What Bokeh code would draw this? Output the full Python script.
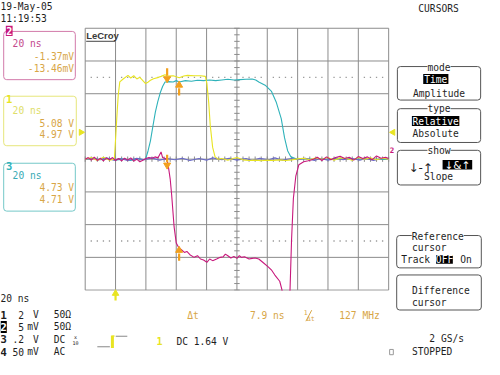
import numpy as np
from bokeh.plotting import figure
from bokeh.models import Range1d, Label, BoxAnnotation
from bokeh.embed import file_html
from bokeh.resources import INLINE

# ---------------- data ----------------
NS_PER_DIV = 20
VOLTS_PER_DIV = {"1": 2.0, "2": 5.0, "3": 2.0, "4": 50.0}   # ch2/ch4 in mV, ch3 = .2 V x10 probe

# (time ns, volts)
ch1_trace = [(-100, 0.0), (-96, 0.1), (-92, -0.08), (-88, 0.12), (-84, -0.06), (-80.8, 0.0),
             (-80, 1.2), (-79, 2.8), (-78.2, 3.94), (-77.2, 4.72), (-75, 4.9), (-71.8, 5.12),
             (-70, 4.96), (-68, 5.1), (-66, 4.9), (-64, 5.0), (-62, 4.8), (-60.2, 4.62),
             (-58.4, 4.72), (-57, 4.82), (-55, 4.92), (-51.6, 5.0), (-50, 5.06), (-47.4, 5.16),
             (-46, 5.08), (-42, 5.1), (-38, 4.98), (-35, 5.08), (-32.6, 5.12), (-28, 5.1),
             (-24, 5.1), (-20.8, 5.06), (-19.8, 4.62), (-18.6, 3.46), (-17.6, 2.08), (-16, 0.72),
             (-14.4, 0.14), (-12.2, 0.0), (-10, 0.04), (-6, -0.06), (-2, 0.06), (0, 0.1),
             (4, -0.04), (8, -0.08), (12, -0.06), (16, -0.1), (20, -0.06), (24, -0.08),
             (28, -0.04), (32, -0.08), (36, -0.04), (40, 0.02), (44, 0.06), (48, -0.04),
             (52, 0.08), (56, 0.0), (60, 0.1), (64, -0.06), (68, 0.08), (72, 0.04), (76, -0.06),
             (80, 0.1), (84, 0.0), (88, 0.08), (92, -0.04), (96, 0.06), (100, 0.0)]
# (time ns, millivolts)
ch2_trace = [(-100, 0.0), (-98, 0.25), (-96, -0.15), (-94, 0.3), (-92, -0.2), (-90, 0.15),
             (-88, -0.25), (-86, 0.2), (-84, -0.1), (-82, 0.25), (-80, -0.2), (-78, 0.1),
             (-76, -0.25), (-74, 0.15), (-72, -0.15), (-70, 0.2), (-68, -0.3), (-66, 0.0),
             (-64, -0.4), (-62, -0.15), (-60, 0.1), (-58, 0.25), (-56, 0.15), (-54, 0.35),
             (-52, 0.2), (-50, 1.1), (-49, 0.25), (-47.2, 0.1), (-46, -0.25), (-45.2, -1.1),
             (-44, -3.0), (-43, -5.5), (-41.4, -10.35), (-40, -12.8), (-38.4, -13.5),
             (-36.8, -13.8), (-34.6, -14.25), (-33, -14.1), (-31, -14.6), (-28.2, -15.0),
             (-26, -14.75), (-24, -15.25), (-22, -15.4), (-19.8, -15.75), (-18, -15.25),
             (-16, -15.5), (-13.4, -15.25), (-11, -15.0), (-9, -14.9), (-7.6, -14.5),
             (-6, -14.75), (-4, -15.1), (-2, -14.85), (0, -15.15), (1.6, -14.75), (3, -15.0),
             (5, -14.9), (8, -15.25), (10, -15.15), (12, -15.1), (14.4, -15.25), (17, -15.75),
             (20.6, -16.45), (23, -17.0), (25, -17.7), (28.2, -18.65), (29.6, -19.9),
             (31, -22.0), (33, -23.0), (34.6, -21.0), (35, -19.9), (36, -12.3), (37.2, -6.0),
             (38.8, -2.6), (40.8, -0.85), (44, -0.4), (47, -0.25), (50.4, 0.0), (53, 0.3),
             (56, -0.2), (59, 0.35), (62, -0.1), (65, 0.25), (68, 0.45), (71, 0.1), (74, 0.3),
             (77, -0.15), (80, 0.4), (83, 0.1), (86, 0.35), (89, -0.1), (92, 0.5), (95, 0.15),
             (98, 0.3), (100, 0.1)]
# (time ns, volts)
ch3_trace = [(-100, 0.0), (-95, 0.06), (-90, -0.04), (-85, 0.04), (-80, -0.06), (-75, 0.02),
             (-70, -0.08), (-65, 0.04), (-62, -0.04), (-60.2, 0.0), (-58.6, 0.5), (-57, 1.12),
             (-55.4, 2.0), (-53.8, 2.86), (-52.2, 3.5), (-50.6, 4.04), (-49, 4.44), (-47.4, 4.72),
             (-45, 4.74), (-42, 4.72), (-40, 4.8), (-38, 4.72), (-34, 4.8), (-30, 4.76),
             (-26, 4.82), (-22, 4.8), (-18, 4.84), (-14, 4.8), (-10, 4.84), (-6, 4.88),
             (-2, 4.84), (2, 4.86), (6, 4.88), (10, 4.9), (12.4, 4.84), (14.4, 4.72),
             (18.6, 4.52), (22.8, 4.14), (26, 3.46), (29.2, 2.48), (31.4, 1.3), (33.4, 0.52),
             (35.6, 0.14), (39.8, 0.0), (44, 0.04), (48.4, 0.0), (55, 0.04), (62, -0.02),
             (70, 0.04), (78, 0.0), (86, 0.04), (94, -0.02), (100, 0.0)]
# (time ns, millivolts)
ch4_trace = [(-100, 0.0), (-95, 1.5), (-91, -1.0), (-86, 2.0), (-81, -1.5), (-77, 1.0),
             (-72, -2.0), (-66, 1.5), (-61, -1.0), (-56, 2.0), (-51, -1.5), (-46, 1.0),
             (-41, -1.0), (-36, 1.5), (-31, -2.0), (-25, 1.0), (-20, -1.5), (-16, 2.0),
             (-10, -1.0), (-5, 1.5), (0, -1.5), (6, 1.0), (10, -2.0), (15, 1.5), (21, -1.0),
             (25, 2.0), (30, -1.5), (36, 1.0), (40, -1.0), (45, 1.5), (51, -2.0), (55, 1.0),
             (60, -1.5), (66, 2.0), (70, -1.0), (75, 1.5), (81, -1.5), (85, 1.0), (90, -2.0),
             (96, 1.5), (100, 0.0)]

cursor_ref_ns = -46.0
cursor_delta_ns = 7.9
ch1_readout = [5.08, 4.97]
ch2_readout = [-1.37, -13.46]
ch3_readout = [4.73, 4.71]
trigger_time_ns = -80.0
trigger_level_v = 1.64
channel_rows = [("1", "2", "V", "50Ω"), ("2", "5", "mV", "50Ω"),
                ("3", ".2", "V", "DC"), ("4", "50", "mV", "AC")]

# ---------------- layout (reference pixel frame) ----------------
W, H = 484, 359
REF_W, REF_H = 500, 375
GX0, GX1, GY0, GY1 = 87.5, 401.0, 29.0, 302.5
PXX = (GX1 - GX0) / 10
PXY = (GY1 - GY0) / 8
CX, CY = (GX0 + GX1) / 2, (GY0 + GY1) / 2


def tx(px):
    return (px - CX) / PXX * NS_PER_DIV


def ty(py):
    return (CY - py) / PXY


YELLOW = "#e8e422"
MAGENTA = "#c8187c"
CYAN = "#2fb2ba"
BLUE = "#6a6ac8"
ORANGE = "#f2a01e"
TAN = "#d8a646"
GRID = "#8c8c8c"
INK = "#1e1e1e"
BOXC = "#555555"
FONT = "DejaVu Sans Mono"
FS = "9.6px"

p = figure(width=W, height=H, x_range=Range1d(tx(0), tx(REF_W)),
           y_range=Range1d(ty(REF_H), ty(0)), output_backend="svg",
           toolbar_location=None, x_axis_type=None, y_axis_type=None,
           min_border=0, outline_line_color=None,
           background_fill_color="white", border_fill_color="white")
p.extra_y_ranges = {k: Range1d(ty(REF_H) * v, ty(0) * v) for k, v in VOLTS_PER_DIV.items()}

# graticule
vt = np.arange(-5, 6) * NS_PER_DIV
p.segment(x0=vt, y0=-4, x1=vt, y1=4, line_color=GRID, line_width=1)
hd = np.arange(-4, 5)
p.segment(x0=-5 * NS_PER_DIV, y0=hd, x1=5 * NS_PER_DIV, y1=hd, line_color=GRID, line_width=1)
minor_t = np.arange(-25, 26) * NS_PER_DIV / 5
dot_t = minor_t[np.round(minor_t) % NS_PER_DIV != 0]
for lvl in (2.5, -2.5):
    p.scatter(x=dot_t, y=lvl, marker="square", size=1.3, color="#9a9a9a", line_color=None)
minor_d = np.arange(-20, 21) / 5
hx = 2.8 / PXX * NS_PER_DIV
p.segment(x0=-hx, y0=minor_d, x1=hx, y1=minor_d, line_color=GRID, line_width=1)
hy = 2.8 / PXY
p.segment(x0=minor_t, y0=-hy, x1=minor_t, y1=hy, line_color=GRID, line_width=1)

# traces
for name, data, col in (("3", ch3_trace, CYAN), ("4", ch4_trace, BLUE),
                        ("1", ch1_trace, YELLOW), ("2", ch2_trace, MAGENTA)):
    t, v = zip(*data)
    p.line(list(t), list(v), y_range_name=name, line_color=col, line_width=1.1)

# mask beneath the graticule
p.quad(left=tx(GX0 - 1), right=tx(GX1 + 1), bottom=ty(REF_H), top=ty(GY1 + 0.6),
       fill_color="white", line_color=None)

# cursor arrows (tips at readout values)
alen, ahead = 14 / PXY, 3.2 / PXY
cur_t = [cursor_ref_ns, cursor_ref_ns + cursor_delta_ns]
for ch, rd in (("3", ch3_readout), ("2", ch2_readout)):
    tip0 = rd[0] / VOLTS_PER_DIV[ch]
    tip1 = rd[1] / VOLTS_PER_DIV[ch]
    p.segment(x0=cur_t[0], y0=tip0 + alen, x1=cur_t[0], y1=tip0 + 2 * ahead,
              line_color=ORANGE, line_width=2.2)
    p.scatter(x=cur_t[0], y=tip0 + ahead, marker="inverted_triangle", size=7,
              color=ORANGE, line_color=ORANGE)
    p.segment(x0=cur_t[1], y0=tip1 - alen, x1=cur_t[1], y1=tip1 - 2 * ahead,
              line_color=ORANGE, line_width=2.2)
    p.scatter(x=cur_t[1], y=tip1 - ahead, marker="triangle", size=7,
              color=ORANGE, line_color=ORANGE)

# trigger markers
p.segment(x0=trigger_time_ns, y0=ty(313.5), x1=trigger_time_ns, y1=ty(307),
          line_color=YELLOW, line_width=2.2)
p.scatter(x=trigger_time_ns, y=ty(306), marker="triangle", size=6.5, color=YELLOW)
lvl = trigger_level_v / VOLTS_PER_DIV["1"]
p.scatter(x=tx(83.2), y=lvl, marker="triangle", angle=-np.pi / 2, size=6, color=YELLOW)
p.scatter(x=tx(405.5), y=lvl, marker="triangle", angle=np.pi / 2, size=6, color=YELLOW)

# LeCroy underline & coupling icon
p.segment(x0=tx(88.5), y0=ty(42.6), x1=tx(118.5), y1=ty(42.6), line_color="#444444", line_width=1)
p.segment(x0=[tx(100), tx(119)], y0=[ty(361.7), ty(350.7)], x1=[tx(113), tx(131)],
          y1=[ty(361.7), ty(350.7)], line_color="#888888", line_width=1)
p.segment(x0=tx(115.6), y0=ty(350), x1=tx(115.6), y1=ty(363), line_color=YELLOW, line_width=3)
p.segment(x0=tx(115.6), y0=ty(350.5), x1=tx(118), y1=ty(350.5), line_color=YELLOW, line_width=1)
# 1/Δt slash
p.segment(x0=tx(315.5), y0=ty(335), x1=tx(321.5), y1=ty(323.5), line_color=TAN, line_width=1)


def box(x0, y0, x1, y1, line=None, fill=None, radius=0):
    p.add_layout(BoxAnnotation(left=tx(x0), right=tx(x1), top=ty(y0), bottom=ty(y1),
                               fill_color=fill if fill else "white",
                               fill_alpha=1 if fill else 0,
                               line_color=line, line_width=1, line_alpha=1 if line else 0,
                               border_radius=radius))


def lab(px, py, text, color=INK, size=FS, align="left", style="normal", bg=None, font=FONT):
    p.add_layout(Label(x=tx(px), y=ty(py), text=text, text_color=color, text_font_size=size,
                       text_align=align, text_baseline="middle", text_font=font,
                       text_font_style=style, background_fill_color=bg))


# date / time
lab(0, 6.5, "19-May-05")
lab(0, 18.5, "11:19:53")
lab(88.5, 36.8, "LeCroy", color="#3a3a3a", size="9.5px", style="bold", font="Liberation Sans")

# channel boxes
box(3.3, 32.3, 77.3, 82.7, line="#d27aaa", radius=3)
box(5.5, 26.5, 12.5, 37, fill=MAGENTA)
lab(9, 32, "2", color="white", size="10px", align="center", style="bold")
lab(12.5, 45, "20 ns", color="#c4488c")
lab(76, 58, "-1.37mV", color=TAN, align="right")
lab(76, 71, "-13.46mV", color=TAN, align="right")

box(3.3, 100, 78.3, 151.7, line="#e6e67a", radius=3)
lab(9, 102.5, "1", color=YELLOW, size="10.5px", align="center", style="bold")
lab(12.5, 115, "20 ns", color="#dede6a")
lab(76, 128, "5.08 V", color=TAN, align="right")
lab(76, 139.5, "4.97 V", color=TAN, align="right")

box(3.3, 170, 77.3, 220, line="#74c8c8", radius=3)
lab(9, 172.5, "3", color=CYAN, size="10.5px", align="center", style="bold")
lab(12.5, 183.3, "20 ns", color="#38aab4")
lab(76, 195.7, "4.73 V", color=TAN, align="right")
lab(76, 207.7, "4.71 V", color=TAN, align="right")

# channel ground marker
lab(404.5, 156.5, "2", color=MAGENTA, size="7.5px", align="center", style="bold")

# bottom-left settings
lab(0, 311.7, "20 ns")
row_y = [328.3, 341.0, 354.0, 366.7]
for (num, scale, unit, cpl), y in zip(channel_rows, row_y):
    if num == "2":
        box(0, y - 6.3, 6.5, y + 6.3, fill="black")
        lab(3.2, y, num, color="white", size="11px", align="center", style="bold")
    else:
        lab(3.2, y, num, color=INK, size="11px", align="center", style="bold")
    lab(24.3, y, scale, align="right")
    lab(39.5, y, unit, align="right")
    lab(55, y, cpl)
lab(77.5, 352, "x", size="5px", align="center")
lab(77.5, 357.5, "10", size="5px", align="center")

# trigger readout
lab(164.2, 356, "1", color=YELLOW, size="10px", align="center", style="bold")
lab(181.7, 355.7, "DC 1.64 V")

# cursor readout
lab(193, 329.3, "Δt", color=TAN)
lab(293.5, 329.3, "7.9 ns", color=TAN, align="right")
lab(313.2, 326, "1", color=TAN, size="6.5px")
lab(316.5, 332.5, "Δt", color=TAN, size="6.5px")
lab(350, 329.3, "127 MHz", color=TAN)

# right menu
lab(452.5, 8.5, "CURSORS", align="center")
box(410, 69, 496, 104, line=BOXC, radius=3)
lab(453, 69.5, "mode", align="center", bg="white")
box(436.7, 76.7, 462.7, 87.3, fill="black")
lab(449.7, 82, "Time", color="white", align="center")
lab(453, 96.7, "Amplitude", align="center")

box(410, 113, 496, 148.3, line=BOXC, radius=3)
lab(453, 113, "type", align="center", bg="white")
box(425, 120.7, 474, 131, fill="black")
lab(449.5, 126, "Relative", color="white", align="center")
lab(449.5, 139.3, "Absolute", align="center")

box(410, 156.5, 496, 192.7, line=BOXC, radius=3)
lab(453, 156.5, "show", align="center", bg="white")
lab(434, 174.5, "↓-↑", align="center", size="12px", font="DejaVu Sans")
box(456.7, 166.7, 487.3, 176.5, fill="black")
lab(472, 171.6, "↓&↑", color="white", align="center", size="10.5px", font="DejaVu Sans")
lab(452.5, 183.8, "Slope", align="center")

box(409.3, 245.5, 496.7, 279.3, line=BOXC, radius=3)
lab(451.7, 246, "Reference", align="center", bg="white")
lab(425, 257.7, "cursor")
lab(414, 270.5, "Track")
box(450, 266, 467.3, 275, fill="black")
lab(458.7, 270.5, "OFF", color="white", align="center")
lab(475, 270.5, "On")

box(409.3, 286.7, 496.7, 323.3, line=BOXC, radius=3)
lab(425, 302.7, "Difference")
lab(425, 315, "cursor")

lab(443, 353.3, "2 GS/s")
box(402, 364.5, 405.8, 370, line="#999999")
lab(425, 366.7, "STOPPED")

open("out.html", "w").write(file_html(p, INLINE))
